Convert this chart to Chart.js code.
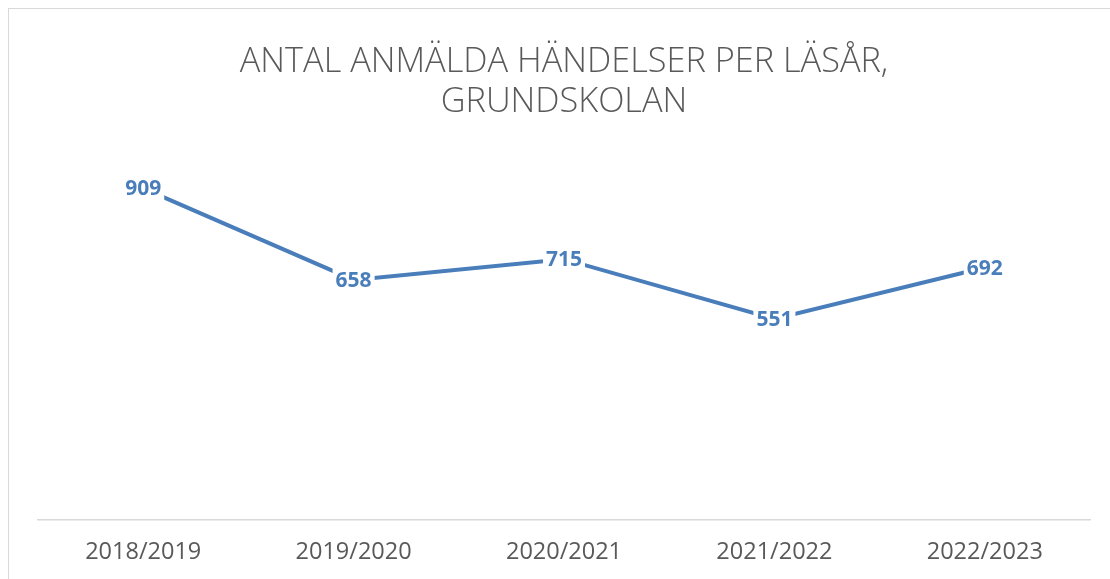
<!DOCTYPE html>
<html>
<head>
<meta charset="utf-8">
<script src="https://cdn.jsdelivr.net/npm/chart.js@4"></script>
<style>
  html, body { margin: 0; padding: 0; background: #fff; overflow: hidden; }
  #frame {
    position: absolute; left: 8px; top: 8px;
    width: 1102px; height: 600px;
    border-left: 1.5px solid #d9d9d9;
    border-top: 1.5px solid #d9d9d9;
    box-sizing: border-box;
  }
  #wrap { position: relative; width: 1100px; height: 589px; }
</style>
</head>
<body>
<div id="frame"><div id="wrap"><canvas id="chart"></canvas></div></div>
<script>
// school years and reported incidents
const years = ['2018/2019', '2019/2020', '2020/2021', '2021/2022', '2022/2023']
const incidents = [909, 658, 715, 551, 692]
const titleLines = ['ANTAL ANMÄLDA HÄNDELSER PER LÄSÅR,', 'GRUNDSKOLAN']

const blue = '#4A7EBB'

// simple value labels on a white box (no datalabels plugin offline)
const valueLabels = {
  id: 'valueLabels',
  afterDatasetsDraw(chart) {
    const ctx = chart.ctx
    const meta = chart.getDatasetMeta(0)
    ctx.save()
    ctx.font = 'bold 21px "Open Sans", sans-serif'
    ctx.textAlign = 'center'
    ctx.textBaseline = 'middle'
    meta.data.forEach((pt, i) => {
      const txt = String(chart.data.datasets[0].data[i])
      const w = ctx.measureText(txt).width
      ctx.fillStyle = '#fff'
      ctx.fillRect(pt.x - w / 2 - 3, pt.y - 13, w + 6, 26)
      ctx.fillStyle = blue
      ctx.fillText(txt, pt.x, pt.y + 1)
    })
    ctx.restore()
  }
}

const data = {
  labels: years,
  datasets: [{
    label: 'Anmälda händelser',
    data: incidents,
    borderColor: blue,
    backgroundColor: blue,
    borderWidth: 4,
    pointRadius: 0,
    tension: 0
  }]
}

const config = {
  type: 'line',
  data: data,
  plugins: [valueLabels],
  options: {
    responsive: true,
    maintainAspectRatio: false,
    animation: false,
    layout: { padding: { left: 29, right: 19, top: 0, bottom: 14 } },
    plugins: {
      legend: { display: false },
      tooltip: { enabled: false },
      title: {
        display: true,
        text: titleLines,
        color: '#595959',
        font: { family: '"Open Sans", sans-serif', size: 34.3, weight: '300', lineHeight: 1.17 },
        padding: { top: 33, bottom: 33 }
      }
    },
    scales: {
      x: {
        offset: true,
        grid: { display: false, drawTicks: false },
        border: { display: true, color: '#d9d9d9', width: 1.5 },
        ticks: {
          color: '#595959',
          padding: 18,
          font: { family: '"Open Sans", sans-serif', size: 23.5 }
        }
      },
      y: {
        display: false,
        min: 0,
        max: 1000
      }
    }
  }
}

const myChart = new Chart(document.getElementById('chart'), config)
</script>
</body>
</html>
